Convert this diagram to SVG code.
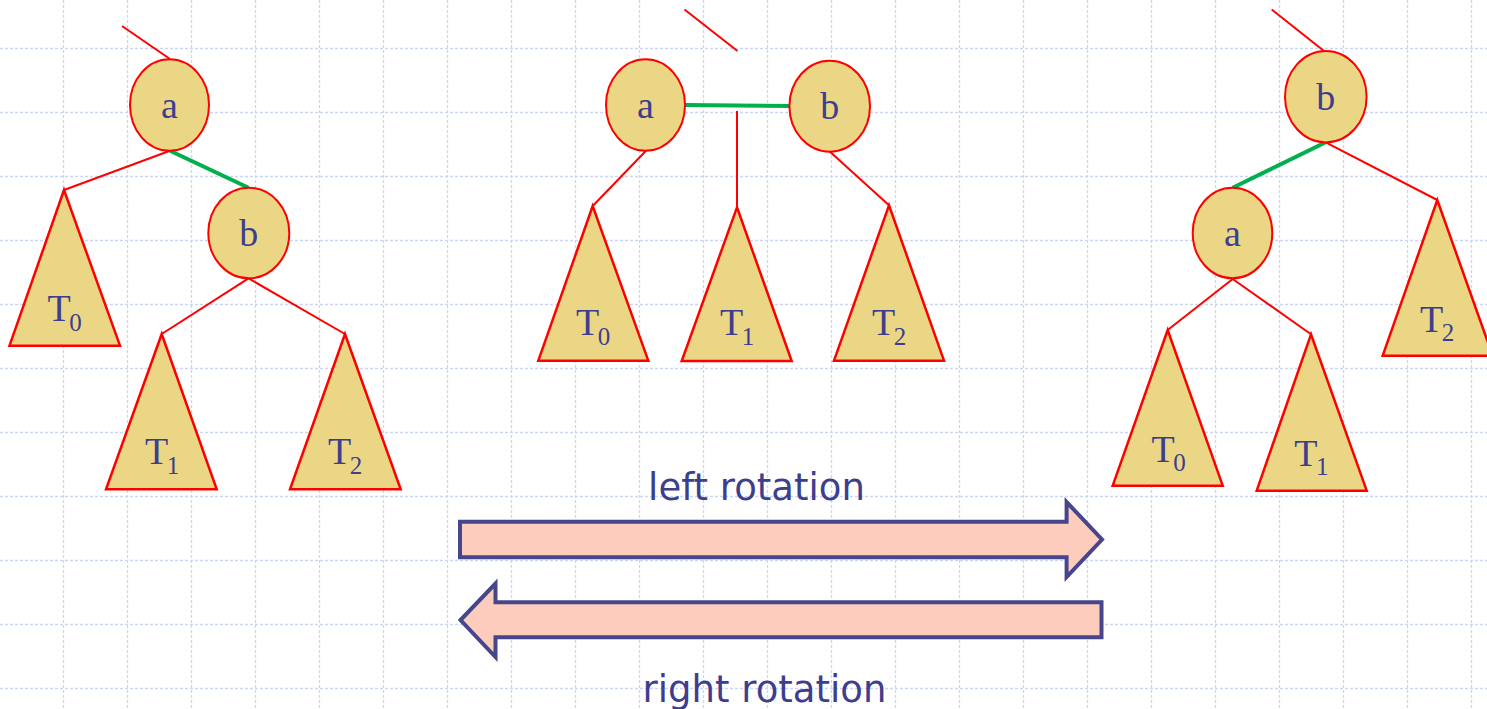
<svg xmlns="http://www.w3.org/2000/svg" width="1487" height="709" viewBox="0 0 1487 709">
<style>
.grid{stroke:#cbd6f6;stroke-width:1.3;stroke-dasharray:3 2;fill:none}
.e{stroke:#ff0000;stroke-width:2;fill:none}
.g{stroke:#00b04f;stroke-width:4;fill:none}
.n{fill:#ebd686;stroke:#ff0000;stroke-width:2}
.t{fill:#ebd686;stroke:#ff0000;stroke-width:2.5;stroke-linejoin:miter}
.lbl{font-family:"Liberation Serif","Times New Roman",serif;font-size:38px;fill:#3e3e8e}
.sub{font-size:25px}
.arr{fill:#fdccbc;stroke:#46468c;stroke-width:4;stroke-linejoin:miter}
.cap{font-family:"DejaVu Sans",Verdana,sans-serif;font-size:37px;fill:#3e3e8e;text-anchor:middle}
</style>
<rect width="1487" height="709" fill="#ffffff"/>
<g id="grid">
<path class="grid" d="M63.5 0V709M127.5 0V709M191.5 0V709M255.5 0V709M319.5 0V709M383.5 0V709M447.5 0V709M511.5 0V709M575.5 0V709M639.5 0V709M703.5 0V709M767.5 0V709M831.5 0V709M895.5 0V709M959.5 0V709M1023.5 0V709M1087.5 0V709M1151.5 0V709M1215.5 0V709M1279.5 0V709M1343.5 0V709M1407.5 0V709M1471.5 0V709"/>
<path class="grid" d="M0 48.5H1487M0 112.5H1487M0 176.5H1487M0 240.5H1487M0 304.5H1487M0 368.5H1487M0 432.5H1487M0 496.5H1487M0 560.5H1487M0 624.5H1487M0 688.5H1487"/>
</g>
<g id="connectors">
<line class="e" x1="122" y1="26" x2="170" y2="59"/>
<line class="e" x1="170" y1="150.7" x2="64" y2="190"/>
<line class="g" x1="170" y1="150.7" x2="248.5" y2="187.7"/>
<line class="e" x1="248.5" y1="278.3" x2="161.7" y2="334"/>
<line class="e" x1="248.5" y1="278.3" x2="345" y2="334"/>
<line class="e" x1="684.5" y1="9.5" x2="737.5" y2="51"/>
<line class="g" x1="685" y1="105" x2="789.5" y2="106"/>
<line class="e" x1="737" y1="111" x2="737" y2="207.5"/>
<line class="e" x1="646" y1="150.7" x2="592.7" y2="206"/>
<line class="e" x1="830" y1="151.7" x2="889" y2="205.3"/>
<line class="e" x1="1271.7" y1="9.5" x2="1324" y2="51"/>
<line class="g" x1="1325.7" y1="142.3" x2="1232.7" y2="187.7"/>
<line class="e" x1="1325.7" y1="142.3" x2="1437.3" y2="200"/>
<line class="e" x1="1232.7" y1="279" x2="1167.7" y2="330"/>
<line class="e" x1="1232.7" y1="279" x2="1311" y2="334.3"/>
</g>
<g id="tree1-a"><ellipse class="n" cx="169.5" cy="105" rx="39.5" ry="45.7"/><text class="lbl" x="169.5" y="118" text-anchor="middle">a</text></g>
<g id="tree1-b"><ellipse class="n" cx="248.8" cy="233" rx="40.5" ry="45.3"/><text class="lbl" x="248.8" y="246" text-anchor="middle">b</text></g>
<g id="tree1-T0"><polygon class="t" points="64,190 9.5,345.7 120,345.7"/><text class="lbl" x="47.5" y="321">T<tspan class="sub" dx="-1.5" dy="9.5">0</tspan></text></g>
<g id="tree1-T1"><polygon class="t" points="161.7,334 106,489.3 216.7,489.3"/><text class="lbl" x="145" y="464.3">T<tspan class="sub" dx="-1.5" dy="9.5">1</tspan></text></g>
<g id="tree1-T2"><polygon class="t" points="345,334 290,489.3 400.7,489.3"/><text class="lbl" x="328" y="464.3">T<tspan class="sub" dx="-1.5" dy="9.5">2</tspan></text></g>
<g id="tree2-a"><ellipse class="n" cx="645.5" cy="105" rx="39.5" ry="45.7"/><text class="lbl" x="645.5" y="118" text-anchor="middle">a</text></g>
<g id="tree2-b"><ellipse class="n" cx="829.7" cy="106.2" rx="40.3" ry="45.5"/><text class="lbl" x="829.7" y="119.3" text-anchor="middle">b</text></g>
<g id="tree2-T0"><polygon class="t" points="592.7,206 538.3,360.7 648.3,360.7"/><text class="lbl" x="576" y="335">T<tspan class="sub" dx="-1.5" dy="9.5">0</tspan></text></g>
<g id="tree2-T1"><polygon class="t" points="737,207.3 681.7,361 791.7,361"/><text class="lbl" x="720" y="335">T<tspan class="sub" dx="-1.5" dy="9.5">1</tspan></text></g>
<g id="tree2-T2"><polygon class="t" points="889,205.3 834,360.7 944,360.7"/><text class="lbl" x="872" y="335">T<tspan class="sub" dx="-1.5" dy="9.5">2</tspan></text></g>
<g id="tree3-b"><ellipse class="n" cx="1325.8" cy="96.7" rx="40.8" ry="45.7"/><text class="lbl" x="1325.8" y="110" text-anchor="middle">b</text></g>
<g id="tree3-a"><ellipse class="n" cx="1232.5" cy="233" rx="39.8" ry="45.3"/><text class="lbl" x="1232.5" y="246" text-anchor="middle">a</text></g>
<g id="tree3-T0"><polygon class="t" points="1167.7,330 1112.7,485.7 1222.7,485.7"/><text class="lbl" x="1151.5" y="461.7">T<tspan class="sub" dx="-1.5" dy="9.5">0</tspan></text></g>
<g id="tree3-T1"><polygon class="t" points="1311,334.3 1256.7,490.7 1366.7,490.7"/><text class="lbl" x="1294.3" y="465.7">T<tspan class="sub" dx="-1.5" dy="9.5">1</tspan></text></g>
<g id="tree3-T2"><polygon class="t" points="1437.3,200 1382.7,355.7 1492.7,355.7"/><text class="lbl" x="1420" y="331.7">T<tspan class="sub" dx="-1.5" dy="9.5">2</tspan></text></g>
<g id="left-rotation">
<polygon class="arr" points="460,521.7 1066.6,521.7 1066.6,502 1102,539.5 1066.6,577 1066.6,557.3 460,557.3"/>
<text class="cap" x="756.5" y="500">left rotation</text>
</g>
<g id="right-rotation">
<polygon class="arr" points="1101.5,602.3 495.5,602.3 495.5,583.5 460.5,620 495.5,657 495.5,637.3 1101.5,637.3"/>
<text class="cap" x="764.5" y="701.5">right rotation</text>
</g>
</svg>
